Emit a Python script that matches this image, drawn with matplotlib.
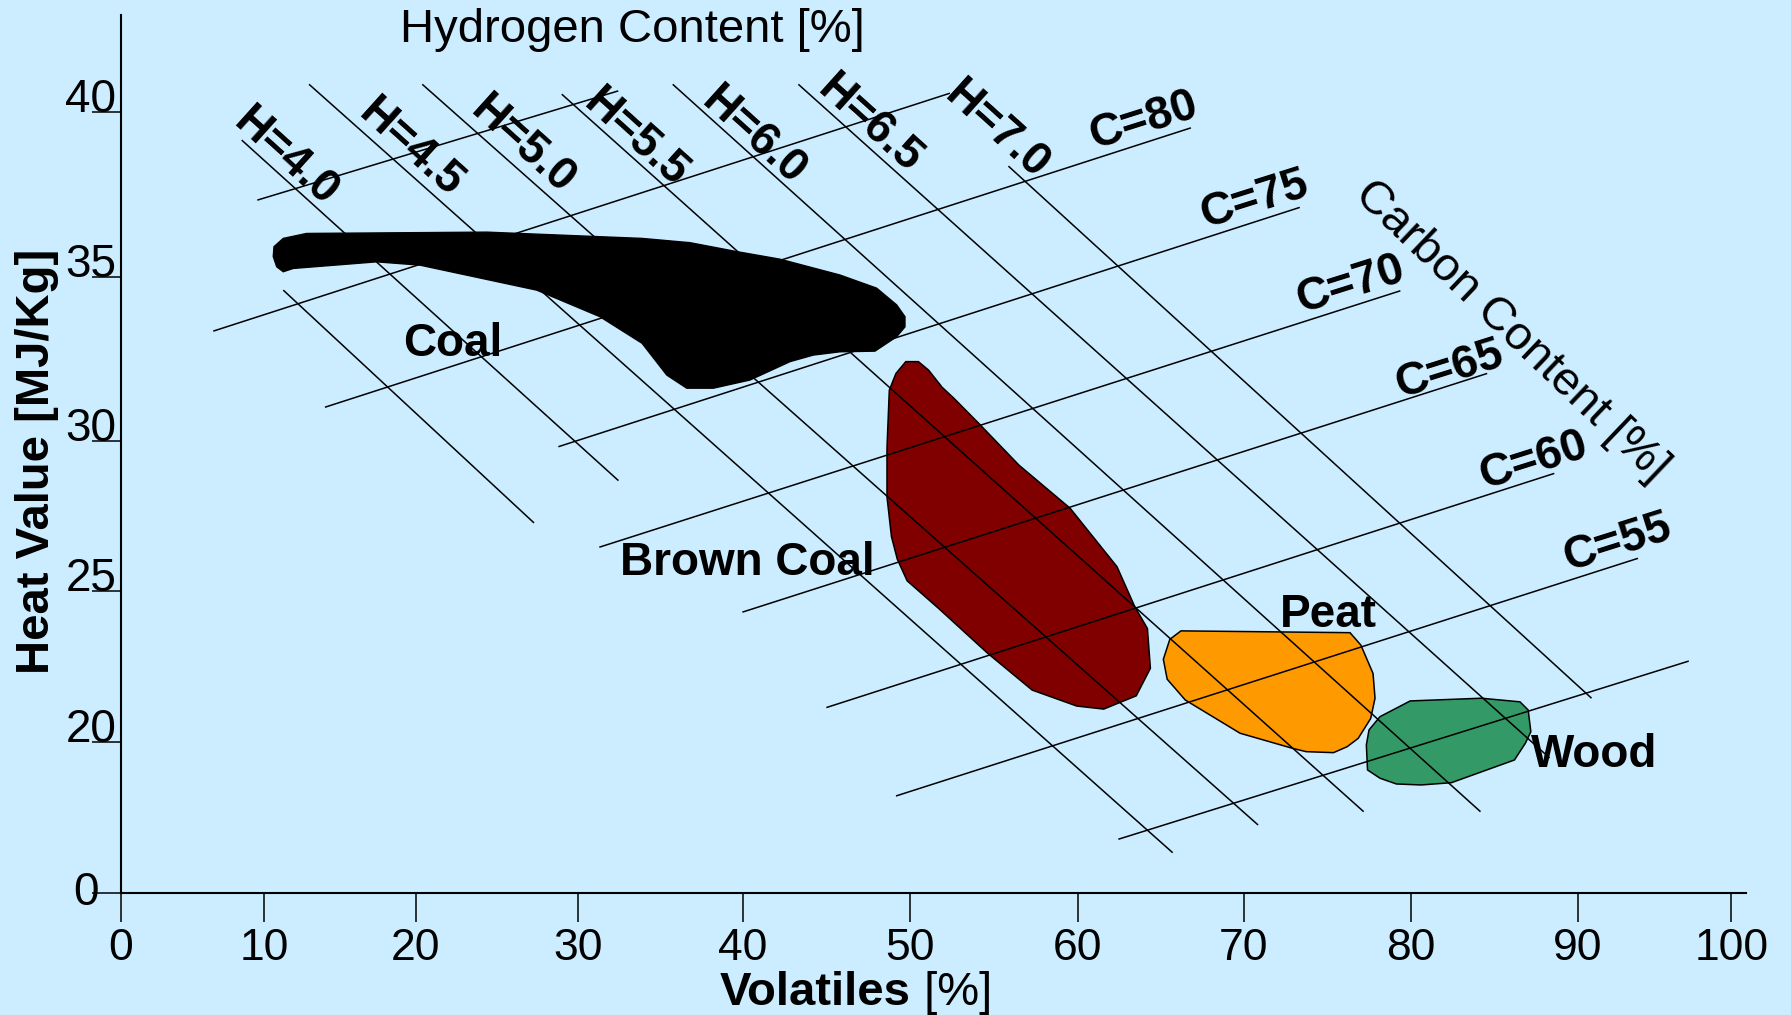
import numpy as np
import matplotlib
matplotlib.use("Agg")
import matplotlib.pyplot as plt

plt.rcParams['font.family'] = ['Liberation Sans', 'DejaVu Sans']

# ---------------- data ----------------
x_ticks = [0, 10, 20, 30, 40, 50, 60, 70, 80, 90, 100]
y_ticks = [0, 20, 25, 30, 35, 40]

# iso-hydrogen lines (start -> end), first one unlabeled
h_labels = ['', 'H=4.0', 'H=4.5', 'H=5.0', 'H=5.5', 'H=6.0', 'H=6.5', 'H=7.0']
h_start_x = [11.27, 8.44, 12.97, 20.41, 29.0, 35.74, 43.32, 55.88]
h_start_y = [34.6, 39.15, 40.84, 40.84, 40.54, 40.84, 40.84, 38.36]
h_end_x = [27.29, 32.45, 65.72, 70.86, 77.19, 84.18, 88.31, 90.89]
h_end_y = [27.27, 28.68, 5.34, 9.01, 10.77, 10.77, 17.89, 21.45]
h_label_x = [None, 11.45, 19.7, 26.61, 33.52, 40.66, 47.62, 55.2]
h_label_y = [None, 38.61, 38.88, 39.0, 39.21, 39.27, 39.61, 39.45]

# iso-carbon lines (start -> end), some unlabeled
c_labels = ['', '', 'C=80', 'C=75', 'C=70', 'C=65', 'C=60', 'C=55', '']
c_start_x = [9.53, 6.45, 14.02, 28.79, 31.29, 39.96, 45.0, 49.18, 62.45]
c_start_y = [37.33, 33.35, 31.03, 29.81, 26.46, 24.3, 21.14, 12.85, 7.12]
c_end_x = [32.44, 52.4, 66.82, 73.36, 79.39, 84.58, 88.59, 93.92, 97.23]
c_end_y = [40.64, 40.57, 39.52, 37.11, 34.58, 32.06, 28.92, 26.09, 22.68]
c_label_x = [None, None, 63.94, 70.62, 76.37, 82.3, 87.32, 92.56, None]
c_label_y = [None, None, 39.73, 37.33, 34.76, 32.16, 29.33, 26.6, None]

# fuel regions
coal_x = [11.27, 12.81, 24.38, 33.88, 36.79, 39.62, 42.22, 45.82, 48.02, 49.22,
          49.72, 49.72, 49.22, 47.92, 45.82, 44.22, 42.82, 40.42, 38.2, 36.59,
          35.38, 34.36, 33.88, 31.33, 27.46, 20.27, 17.43, 11.93, 11.27, 10.84,
          10.61, 10.66]
coal_y = [36.17, 36.32, 36.36, 36.17, 36.04, 35.77, 35.54, 35.06, 34.66, 34.15,
          33.79, 33.48, 33.18, 32.74, 32.72, 32.62, 32.42, 31.86, 31.61, 31.61,
          32.01, 32.67, 32.98, 33.79, 34.6, 35.36, 35.46, 35.26, 35.16, 35.31,
          35.62, 35.92]

brown_x = [49.77, 50.52, 51.13, 51.93, 52.64, 54.11, 56.5, 59.55, 62.37, 63.44,
           64.2, 64.38, 63.53, 61.57, 59.95, 57.29, 54.64, 51.71, 49.85, 49.26,
           48.91, 48.64, 48.64, 48.78, 49.18]
brown_y = [32.42, 32.42, 32.16, 31.64, 31.3, 30.54, 29.2, 27.76, 25.81, 24.48,
           23.76, 22.44, 21.53, 21.09, 21.19, 21.72, 22.94, 24.43, 25.34, 26.06,
           26.81, 28.14, 29.76, 31.55, 32.06]

peat_x = [66.22, 76.37, 77.02, 77.75, 77.87, 77.61, 76.86, 76.2, 75.38, 73.74,
          72.91, 69.78, 66.48, 65.39, 65.16, 65.55]
peat_y = [23.68, 23.62, 23.21, 22.27, 21.45, 20.78, 20.12, 19.38, 18.59, 18.72,
          19.17, 20.29, 21.39, 22.08, 22.74, 23.4]

wood_x = [79.98, 84.24, 86.54, 87.03, 87.19, 86.86, 86.21, 82.44, 80.63, 79.15,
          78.17, 77.42, 77.35, 77.51, 78.17]
wood_y = [21.36, 21.45, 21.33, 21.06, 20.34, 19.83, 17.62, 14.61, 14.31, 14.44,
          15.2, 16.3, 19.61, 20.4, 20.84]

region_names = ['Coal', 'Brown Coal', 'Peat', 'Wood']
region_label_x = [22.28, 40.24, 75.08, 91.06]
region_label_y = [32.97, 25.93, 24.19, 18.29]

# ---------------- axis scales (non-uniform, as in the original) ----------------
X_SCALE_VALUES = np.array([0, 10, 20, 30, 40, 50, 60, 70, 80, 90, 100], float)
X_SCALE_POS = np.array([0, 143, 294.6, 457, 622, 788.6, 956.6, 1122.7, 1289.5, 1456.8, 1610.2])
Y_SCALE_VALUES = np.array([0, 20, 25, 30, 35, 40], float)
Y_SCALE_POS = np.array([0, 151, 302, 452, 616, 781], float)


def _pw(a, b):
    s0 = (b[1] - b[0]) / (a[1] - a[0])
    s1 = (b[-1] - b[-2]) / (a[-1] - a[-2])

    def f(v):
        v = np.asarray(v, dtype=float)
        out = np.interp(v, a, b)
        out = np.where(v < a[0], b[0] + (v - a[0]) * s0, out)
        out = np.where(v > a[-1], b[-1] + (v - a[-1]) * s1, out)
        return out
    return f


fx, fx_inv = _pw(X_SCALE_VALUES, X_SCALE_POS), _pw(X_SCALE_POS, X_SCALE_VALUES)
fy, fy_inv = _pw(Y_SCALE_VALUES, Y_SCALE_POS), _pw(Y_SCALE_POS, Y_SCALE_VALUES)

# ---------------- figure ----------------
BG = '#CCECFF'
W, H = 1791, 1015
fig = plt.figure(figsize=(W / 100, H / 100), dpi=100)
fig.patch.set_facecolor(BG)
ax = fig.add_axes([121 / W, 1 - 893 / H, (1746 - 121) / W, (893 - 15) / H])
ax.set_facecolor(BG)
ax.set_xscale('function', functions=(fx, fx_inv))
ax.set_yscale('function', functions=(fy, fy_inv))
ax.set_xlim(0, 100.96)
ax.set_ylim(0, 42.94)

for s in ['top', 'right']:
    ax.spines[s].set_visible(False)
for s in ['left', 'bottom']:
    ax.spines[s].set_linewidth(1.5)
    ax.spines[s].set_color('black')

ax.set_xticks(x_ticks)
ax.set_xticklabels([str(t) for t in x_ticks])
ax.set_yticks(y_ticks)
ax.set_yticklabels([str(t) for t in y_ticks])
ax.minorticks_off()
ax.tick_params(axis='x', direction='out', length=21, width=1.1, pad=4,
               labelsize=32, colors='black')
ax.tick_params(axis='y', direction='out', length=21, width=1.1, pad=-17.5,
               labelsize=33, colors='black')
ylabs = ax.get_yticklabels()
for lab in ylabs:
    lab.set_verticalalignment('baseline')
ylabs[0].set_verticalalignment('center')
ylabs[0].set_x(-0.0105)

# regions
ax.fill(coal_x, coal_y, facecolor='black', edgecolor='black', lw=1.0, zorder=2)
ax.fill(brown_x, brown_y, facecolor='#800000', edgecolor='black', lw=1.1, zorder=2)
ax.fill(peat_x, peat_y, facecolor='#FF9900', edgecolor='black', lw=1.1, zorder=2)
ax.fill(wood_x, wood_y, facecolor='#339966', edgecolor='black', lw=1.1, zorder=2)

# iso lines
for x0, y0, x1, y1 in zip(h_start_x, h_start_y, h_end_x, h_end_y):
    ax.plot([x0, x1], [y0, y1], color='black', lw=1.1, zorder=3,
            solid_capstyle='butt')
for x0, y0, x1, y1 in zip(c_start_x, c_start_y, c_end_x, c_end_y):
    ax.plot([x0, x1], [y0, y1], color='black', lw=1.1, zorder=3,
            solid_capstyle='butt')

# line labels
for lab, lx, ly in zip(h_labels, h_label_x, h_label_y):
    if lab:
        ax.text(lx, ly, lab, rotation=-42, ha='center', va='center',
                fontsize=33, fontweight='bold', zorder=5)
for lab, lx, ly in zip(c_labels, c_label_x, c_label_y):
    if lab:
        ax.text(lx, ly, lab, rotation=17.5, ha='center', va='center',
                fontsize=33, fontweight='bold', zorder=5)

# region labels
for name, lx, ly in zip(region_names, region_label_x, region_label_y):
    ax.text(lx, ly, name, ha='center', va='center', fontsize=33,
            fontweight='bold', zorder=5)

# axis titles
fig.text(632 / W, 1 - 30 / H, 'Hydrogen Content [%]', ha='center', va='center',
         fontsize=34)
fig.text(1511 / W, 1 - 331 / H, 'Carbon Content [%]', ha='center', va='center',
         rotation=-43.6, fontsize=34)
fig.text(37.5 / W, 1 - 461 / H, 'Heat Value [MJ/Kg]', ha='center', va='center',
         rotation=90, fontsize=34, fontweight='bold')
t1 = fig.text(720 / W, 1 - 1005 / H, 'Volatiles', ha='left', va='baseline',
              fontsize=34, fontweight='bold')
ax.annotate(' [%]', xy=(1, 0), xycoords=t1, ha='left', va='bottom', fontsize=34,
            annotation_clip=False)

fig.savefig('out.png', dpi=100, facecolor=BG)
